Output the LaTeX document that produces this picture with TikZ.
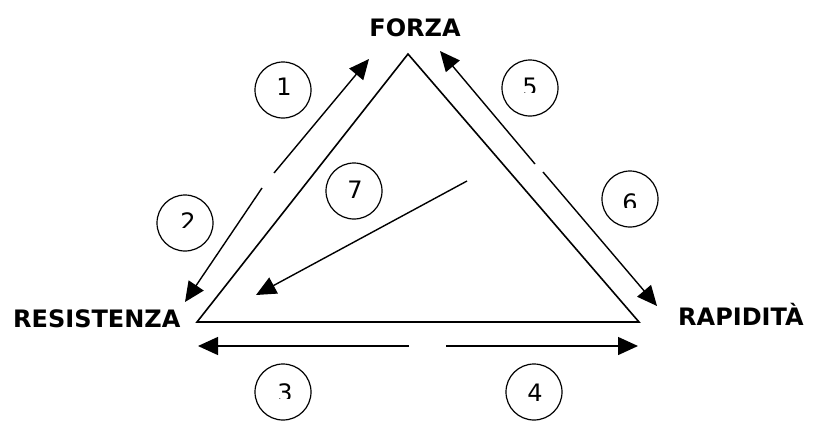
\documentclass[tikz,border=0pt]{standalone}
\usepackage{fontspec}
\setmainfont{DejaVu Sans}
\usetikzlibrary{arrows.meta}
\begin{document}
\begin{tikzpicture}[x=1pt,y=-1pt,
  lbl/.style={font=\fontsize{24}{28}\selectfont\bfseries, inner sep=0pt, anchor=base west},
  num/.style={circle, draw, line width=1.2pt, minimum size=56pt, inner sep=0pt},
  digit/.style={font=\fontsize{24}{28}\selectfont, inner sep=0pt, anchor=base},
  arr/.style={line width=1.4pt, -{Triangle[length=20pt,width=18pt]}},
  tri/.style={line width=1.6pt, line join=miter}]
\fill[white] (0,0) rectangle (814,421);
\useasboundingbox (0,0) rectangle (814,421);
% labels
\node[lbl, anchor=base] (forza) at (415,36) {FORZA};
\node[lbl] (resist) at (13,327) {RESISTENZA};
\node[lbl] (rapid) at (678,325) {RAPIDITÀ};
% triangle
\coordinate (top) at (408,54);
\coordinate (bl) at (197,322);
\coordinate (br) at (639,322);
\draw[tri] (top) -- (br) -- (bl) -- cycle;
% arrow end points
\coordinate (a1s) at (274,173); \coordinate (a1e) at (369,59);
\coordinate (a2s) at (262,188); \coordinate (a2e) at (185,302);
\coordinate (a5s) at (535,164); \coordinate (a5e) at (440,51);
\coordinate (a6s) at (543,172); \coordinate (a6e) at (657,306);
\coordinate (a7s) at (467,181); \coordinate (a7e) at (256,295);
\coordinate (a3s) at (409,346); \coordinate (a3e) at (198,346);
\coordinate (a4s) at (446,346); \coordinate (a4e) at (638,346);
\draw[arr] (a1s) -- (a1e);
\draw[arr] (a2s) -- (a2e);
\draw[arr] (a5s) -- (a5e);
\draw[arr] (a6s) -- (a6e);
\draw[arr] (a7s) -- (a7e);
\draw[arr] (a3s) -- (a3e);
\draw[arr] (a4s) -- (a4e);
% circles
\node[num] (c1) at (283,90) {};
\node[num] (c5) at (530,88) {};
\node[num] (c2) at (185,223) {};
\node[num] (c7) at (354,191) {};
\node[num] (c6) at (630,199) {};
\node[num] (c3) at (283,392) {};
\node[num] (c4) at (534,392) {};
% digits
\node[digit] (d1) at (284,95) {1};
\node[digit] (d7) at (355,198) {7};
\node[digit] (d4) at (535,401) {4};
\begin{scope}
  \clip (500,60) rectangle (560,92);
  \node[digit] (d5) at (530,95) {5};
\end{scope}
\begin{scope}
  \clip (160,200) rectangle (215,227);
  \node[digit] (d2) at (188,230) {2};
\end{scope}
\begin{scope}
  \clip (600,180) rectangle (660,207);
  \node[digit] (d6) at (630,211) {6};
\end{scope}
\begin{scope}
  \clip (255,370) rectangle (315,398);
  \node[digit] (d3) at (285,401) {3};
\end{scope}
\end{tikzpicture}
\end{document}
